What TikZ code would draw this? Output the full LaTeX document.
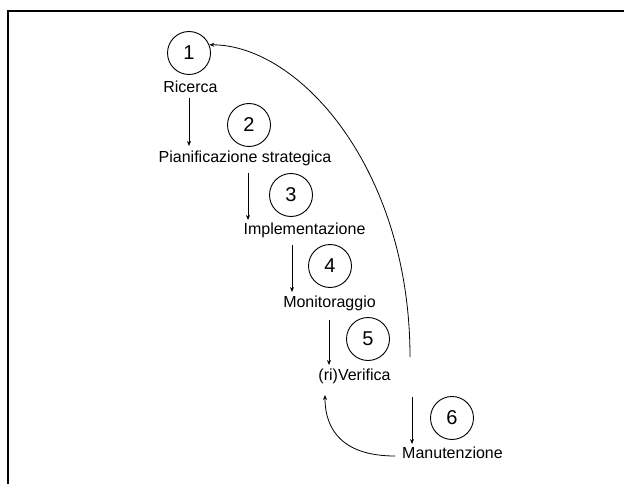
\documentclass[tikz,border=0pt]{standalone}
\usepackage{fontspec}
\setmainfont{Liberation Sans}
\usetikzlibrary{arrows.meta}
\begin{document}
\begin{tikzpicture}[x=1pt,y=-1pt,
  lbl/.style={inner sep=0pt,anchor=base,font=\fontsize{16}{19}\selectfont},
  num/.style={draw,circle,line width=0.9pt,minimum size=43pt,inner sep=0pt,font=\fontsize{20}{24}\selectfont},
  arr/.style={line width=0.8pt,-{Stealth[length=5pt,width=4pt]}}]
\useasboundingbox (0,0) rectangle (624,484);
\fill[white] (0,0) rectangle (624,484);
\draw[line width=2pt] (7.5,490) -- (7.5,11.5) -- (630,11.5);
% circles
\node[num] (c1) at (189,53) {1};
\node[num] (c2) at (249,125) {2};
\node[num] (c3) at (291,195) {3};
\node[num] (c4) at (330,266) {4};
\node[num] (c5) at (368,339) {5};
\node[num] (c6) at (452,418) {6};
% labels
\node[lbl] (ric) at (190.5,92.5) {Ricerca};
\node[lbl] (pia) at (245,163) {Pianificazione strategica};
\node[lbl] (imp) at (304.5,234) {Implementazione};
\node[lbl] (mon) at (329.5,307) {Monitoraggio};
\node[lbl] (ver) at (354.5,380) {(ri)Verifica};
\node[lbl] (man) at (452.5,458) {Manutenzione};
% connector ends
\coordinate (a1s) at (189,98);  \coordinate (a1e) at (189,146);
\coordinate (a2s) at (248,173); \coordinate (a2e) at (248,220);
\coordinate (a3s) at (292,245); \coordinate (a3e) at (292,292);
\coordinate (a4s) at (329,320); \coordinate (a4e) at (329,365);
\coordinate (a5s) at (412,397); \coordinate (a5e) at (412,444);
\coordinate (bs) at (410,357);
\coordinate (cs) at (395,456); \coordinate (ce) at (325,395);
\draw[arr] (a1s) -- (a1e);
\draw[arr] (a2s) -- (a2e);
\draw[arr] (a3s) -- (a3e);
\draw[arr] (a4s) -- (a4e);
\draw[arr] (a5s) -- (a5e);
\draw[arr] (bs) .. controls (410,170) and (300,45) .. (c1.22);
\draw[arr] (cs) .. controls (345,456) and (325,432) .. (ce);
\end{tikzpicture}
\end{document}
